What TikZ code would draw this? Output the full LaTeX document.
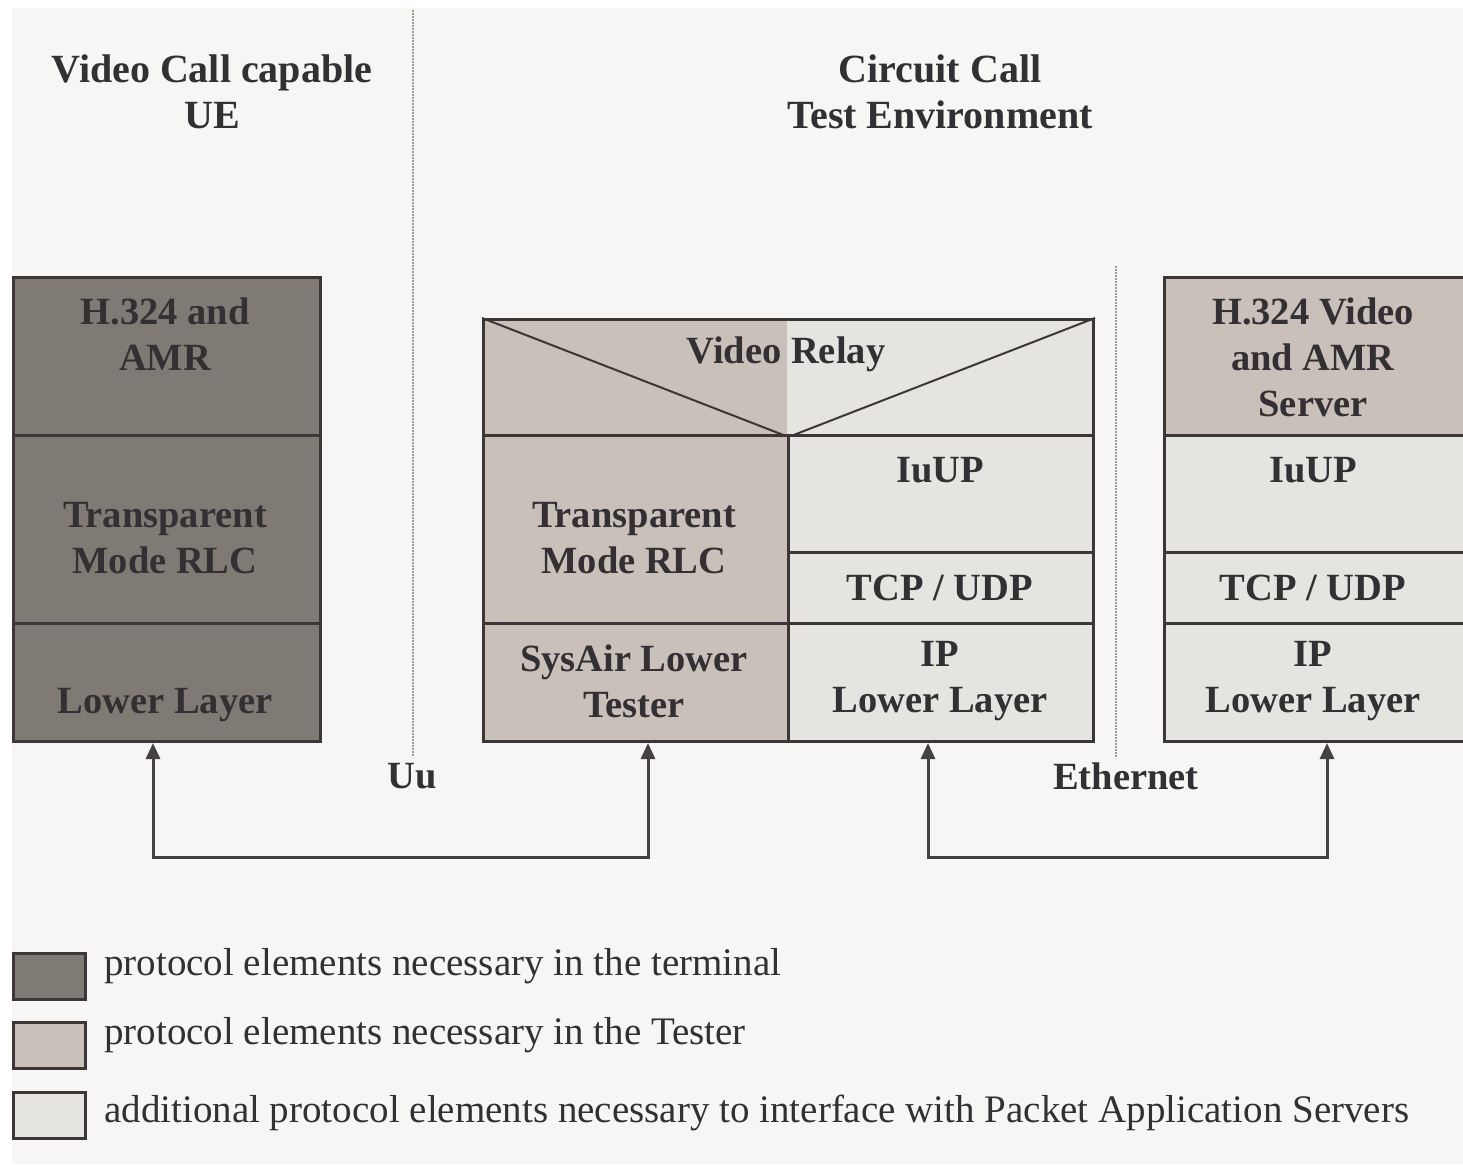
\documentclass[tikz,border=0pt]{standalone}
\usepackage{fontspec}
\setmainfont{Liberation Serif}
\usetikzlibrary{arrows.meta}
\definecolor{bgc}{HTML}{F7F6F4}
\definecolor{dk}{HTML}{807A75}
\definecolor{ts}{HTML}{C9C0BA}
\definecolor{lt}{HTML}{E6E4E0}
\definecolor{linec}{HTML}{3C3636}
\definecolor{txt}{HTML}{333033}
\definecolor{dotc}{HTML}{A09C9A}
\tikzset{
  cell/.style={draw=linec, line width=3pt, rectangle, inner sep=0pt, anchor=north west},
  lbl/.style={align=center, text=txt, font=\bfseries\fontsize{38.5}{46}\selectfont, inner sep=0pt},
  ttl/.style={align=center, text=txt, font=\bfseries\fontsize{40}{46}\selectfont, inner sep=0pt},
  leg/.style={anchor=west, text=txt, font=\fontsize{39}{40}\selectfont, inner sep=0pt},
  legbox/.style={draw=linec, line width=2.5pt, rectangle, inner sep=0pt, anchor=north west, minimum width=72pt, minimum height=46pt},
  arr/.style={draw=linec!85!gray, line width=3pt, {Triangle[length=16pt,width=14pt]}-{Triangle[length=16pt,width=14pt]}},
  sep/.style={draw=dotc, line width=1.6pt, dash pattern=on 1.6pt off 1.4pt}
}
\begin{document}
\begin{tikzpicture}[x=1pt,y=-1pt]
\useasboundingbox (0,0) rectangle (1463,1164);
\clip (0,0) rectangle (1463,1164);
\fill[white] (0,0) rectangle (1463,1164);
\fill[bgc] (12,8) rectangle (1463,1164);

% titles
\node[ttl] (t1) at (212,92) {Video Call capable\\UE};
\node[ttl] (t2) at (940,92) {Circuit Call\\Test Environment};

% separators
\coordinate (s1a) at (413,10);
\coordinate (s1b) at (413,757);
\coordinate (s2a) at (1116,266);
\coordinate (s2b) at (1116,757);
\draw[sep] (s1a) -- (s1b);
\draw[sep] (s2a) -- (s2b);
\node[lbl] (uu) at (412,776) {Uu};
\node[lbl] (eth) at (1126,776) {Ethernet};

% UE stack
\node[cell, fill=dk, minimum width=307pt, minimum height=158pt] (ue1) at (12,276) {};
\node[cell, fill=dk, minimum width=307pt, minimum height=188pt] (ue2) at (12,434) {};
\node[cell, fill=dk, minimum width=307pt, minimum height=118pt] (ue3) at (12,622) {};
\node[lbl] (ue1t) at (165,334) {H.324 and\\AMR};
\node[lbl] (ue2t) at (165,538) {Transparent\\Mode RLC};
\node[lbl] (ue3t) at (165,705) {Lower Layer};

% Video relay stack
\fill[ts] (482,318) rectangle (787,434);
\fill[lt] (787,318) rectangle (1092,434);
\node[cell, minimum width=610pt, minimum height=116pt] (vr) at (482,318) {};
\draw[draw=linec, line width=2pt] (vr.north west) -- (vr.south) -- (vr.north east);
\node[lbl] (vrt) at (786,354) {Video Relay};
\node[cell, fill=ts, minimum width=305pt, minimum height=188pt] (rlc) at (482,434) {};
\node[cell, fill=ts, minimum width=305pt, minimum height=118pt] (sys) at (482,622) {};
\node[cell, fill=lt, minimum width=305pt, minimum height=117pt] (iu) at (787,434) {};
\node[cell, fill=lt, minimum width=305pt, minimum height=71pt] (tcp) at (787,551) {};
\node[cell, fill=lt, minimum width=305pt, minimum height=118pt] (ip) at (787,622) {};
\node[lbl] (rlct) at (634,538) {Transparent\\Mode RLC};
\node[lbl] (syst) at (634,681) {SysAir Lower\\Tester};
\node[lbl] (iut) at (940,470) {IuUP};
\node[lbl] (tcpt) at (940,588) {TCP / UDP};
\node[lbl] (ipt) at (940,681) {IP\\Lower Layer};

% Server stack
\node[cell, fill=ts, minimum width=330pt, minimum height=158pt] (sv1) at (1163,276) {};
\node[cell, fill=lt, minimum width=330pt, minimum height=117pt] (sv2) at (1163,434) {};
\node[cell, fill=lt, minimum width=330pt, minimum height=71pt] (sv3) at (1163,551) {};
\node[cell, fill=lt, minimum width=330pt, minimum height=118pt] (sv4) at (1163,622) {};
\node[lbl] (sv1t) at (1313,357) {H.324 Video\\and AMR\\Server};
\node[lbl] (sv2t) at (1313,470) {IuUP};
\node[lbl] (sv3t) at (1313,588) {TCP / UDP};
\node[lbl] (sv4t) at (1313,681) {IP\\Lower Layer};

% connectors
\coordinate (j1) at (153,857);
\coordinate (j2) at (648,857);
\coordinate (j3) at (928,857);
\coordinate (j4) at (1327,857);
\draw[arr] (ue3.south -| j1) -- (j1) -- (j2) -- (sys.south -| j2);
\draw[arr] (ip.south -| j3) -- (j3) -- (j4) -- (sv4.south -| j4);

% legend
\node[legbox, fill=dk] (l1) at (12,952) {};
\node[legbox, fill=ts] (l2) at (12,1021) {};
\node[legbox, fill=lt] (l3) at (12,1091) {};
\node[leg] (l1t) at (104,966) {protocol elements necessary in the terminal};
\node[leg] (l2t) at (104,1035) {protocol elements necessary in the Tester};
\node[leg] (l3t) at (104,1113) {additional protocol elements necessary to interface with Packet Application Servers};
\end{tikzpicture}
\end{document}
